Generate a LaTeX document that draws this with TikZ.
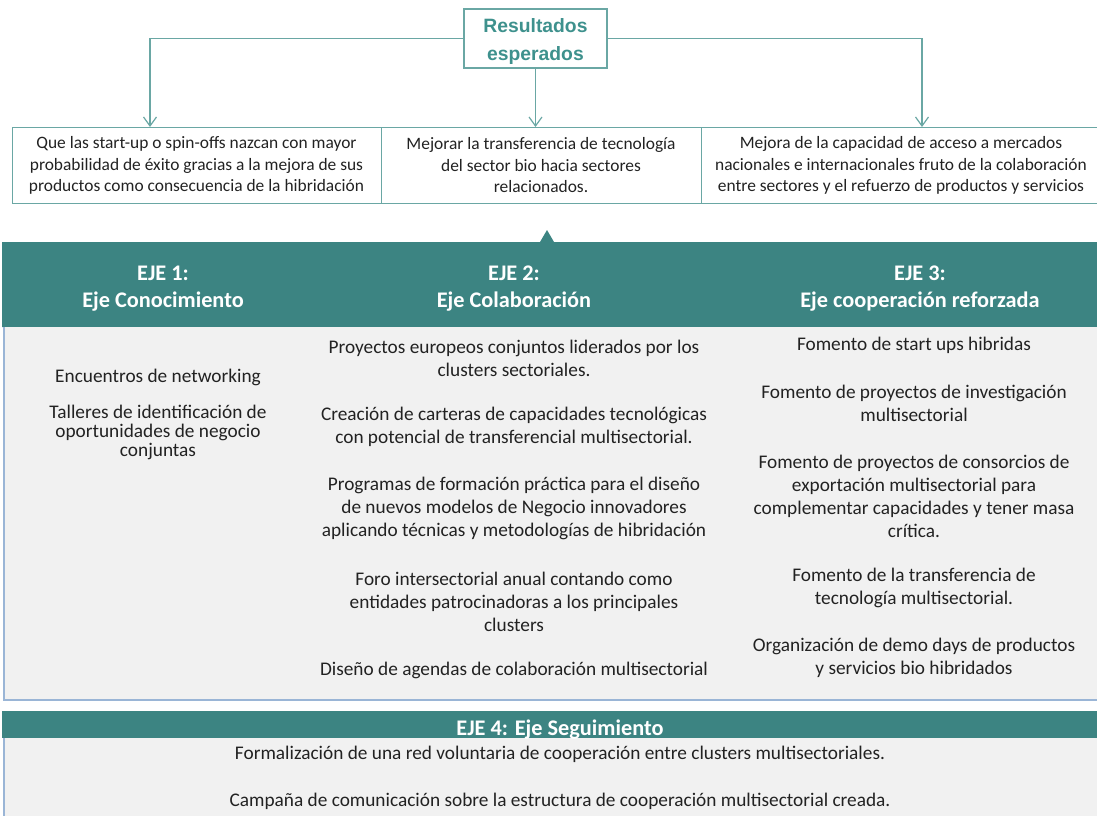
\documentclass[tikz,border=0pt]{standalone}
\usepackage{fontspec}
\setmainfont{Carlito}
\newfontfamily\titlefont{Liberation Sans}
\usetikzlibrary{arrows.meta}

\definecolor{tealband}{HTML}{3C8482}
\definecolor{tealline}{HTML}{6AA7A4}
\definecolor{titletxt}{HTML}{3E918D}
\definecolor{bodygray}{HTML}{F1F1F1}
\definecolor{edgeblue}{HTML}{9AB5D6}
\definecolor{txt}{HTML}{222222}

\tikzset{
  conn/.style={draw=tealline, line width=1.2pt, -{Straight Barb[length=9pt,width=13pt,line width=1.2pt]}},
  titlebox/.style={draw=tealline, line width=1.2pt, fill=white, minimum width=143pt, minimum height=59pt,
    inner sep=0pt},
  titletext/.style={inner sep=0pt, align=center, text=titletxt,
    font=\titlefont\bfseries\fontsize{19.3}{28}\selectfont},
  outbox/.style={draw=tealline, line width=1pt, minimum height=76pt, inner sep=0pt, align=center,
    text=txt, font=\fontsize{17.4}{21.5}\selectfont},
  head/.style={align=center, text=white, inner sep=0pt, font=\bfseries\fontsize{22.3}{26.5}\selectfont},
  item/.style={align=center, text=txt, inner sep=0pt, font=\fontsize{19.3}{23}\selectfont},
  itemtight/.style={item, font=\fontsize{19.3}{19}\selectfont},
}

\begin{document}
\begin{tikzpicture}[x=1pt, y=-1pt]
\useasboundingbox (0,0) rectangle (1097,816);

% expected results and their three outcomes
\node[titlebox] (res) at (535.5,38.5) {};
\node[titletext] (restxt) at (535.5,42) {Resultados\\esperados};

\node[outbox, minimum width=369pt] (o1) at (196.5,165.5)
  {Que las start-up o spin-offs nazcan con mayor\\probabilidad de éxito gracias a la mejora de sus\\productos como consecuencia de la hibridación};
\node[outbox, minimum width=320pt] (o2) at (541,165.5)
  {Mejorar la transferencia de tecnología\\del sector bio hacia sectores\\relacionados.};
\node[outbox, minimum width=400pt] (o3) at (901,165.5)
  {Mejora de la capacidad de acceso a mercados\\nacionales e internacionales fruto de la colaboración\\entre sectores y el refuerzo de productos y servicios};

\coordinate (t1) at (150,127);
\coordinate (t3) at (922,127);
\draw[conn] (res.west) -| (t1);
\draw[conn] (res.south) -- (res.south |- o2.north);
\draw[conn] (res.east) -| (t3);

% header band of the three axes, with its small pointer
\fill[tealband] (2,242) -- (540,242) -- (547,230) -- (554,242) -- (1100,242)
  -- (1100,327) -- (2,327) -- cycle;
\node[head] (h1) at (163,288.5) {EJE 1:\\Eje Conocimiento};
\node[head] (h2) at (514,288.5) {EJE 2:\\Eje Colaboración};
\node[head] (h3) at (920,288.5) {EJE 3:\\Eje cooperación reforzada};

% body of the three axes
\fill[bodygray] (4,327) rectangle (1100,700);
\draw[edgeblue, line width=1.3pt] (4,327) -- (4,700) -- (1100,700);

\node[item] (a1) at (158,377.5) {Encuentros de networking};
\node[itemtight] (a2) at (158,432.5) {Talleres de identificación de\\oportunidades de negocio\\conjuntas};

\node[item] (b1) at (514,358) {Proyectos europeos conjuntos liderados por los\\clusters sectoriales.};
\node[item] (b2) at (514,427) {Creación de carteras de capacidades tecnológicas\\con potencial de transferencial multisectorial.};
\node[item] (b3) at (514,508.5) {Programas de formación práctica para el diseño\\de nuevos modelos de Negocio innovadores\\aplicando técnicas y metodologías de hibridación};
\node[item] (b4) at (514,601.5) {Foro intersectorial anual contando como\\entidades patrocinadoras a los principales\\clusters};
\node[item] (b5) at (514,670.5) {Diseño de agendas de colaboración multisectorial};

\node[item] (c1) at (914,345.5) {Fomento de start ups hibridas};
\node[item] (c2) at (914,403) {Fomento de proyectos de investigación\\multisectorial};
\node[item] (c3) at (914,496) {Fomento de proyectos de consorcios de\\exportación multisectorial para\\complementar capacidades y tener masa\\crítica.};
\node[item] (c4) at (914,588) {Fomento de la transferencia de\\tecnología multisectorial.};
\node[item] (c5) at (914,658) {Organización de demo days de productos\\y servicios bio hibridados};

% fourth axis
\fill[tealband] (2,711) rectangle (1100,738);
\fill[bodygray] (4,738) rectangle (1100,820);
\draw[edgeblue, line width=1.3pt] (4,738) -- (4,820);
\node[head] (h4) at (560,729.5) {EJE 4: Eje Seguimiento};
\node[item] (d1) at (560,754.5) {Formalización de una red voluntaria de cooperación entre clusters multisectoriales.};
\node[item] (d2) at (560,801.5) {Campaña de comunicación sobre la estructura de cooperación multisectorial creada.};
\end{tikzpicture}
\end{document}
